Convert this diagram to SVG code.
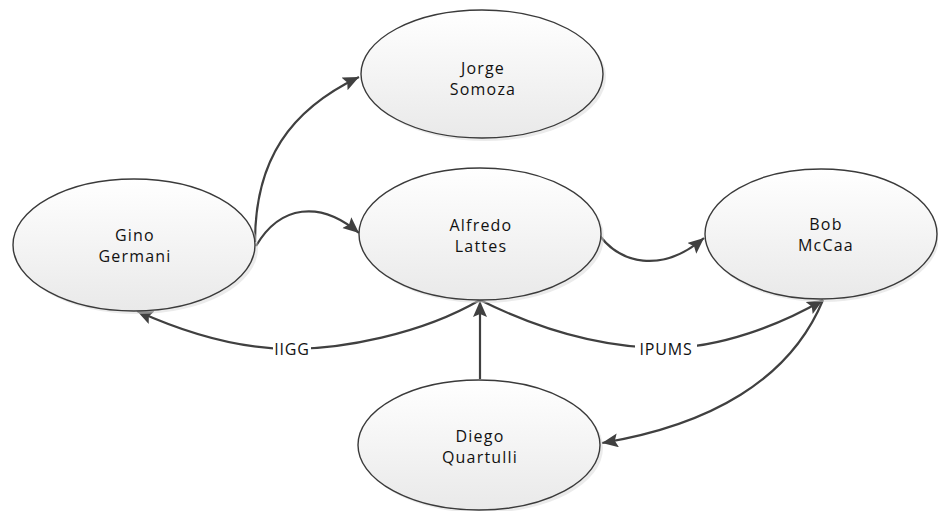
<svg xmlns="http://www.w3.org/2000/svg" width="938" height="511" viewBox="0 0 938 511">
<defs>
<linearGradient id="g" x1="0" y1="0" x2="0" y2="1">
<stop offset="0" stop-color="#ffffff"/>
<stop offset="1" stop-color="#e9e9e9"/>
</linearGradient>
<marker id="ah" markerUnits="userSpaceOnUse" markerWidth="18" markerHeight="16" refX="16" refY="7" orient="auto">
<path d="M0,0 L16,7 L0,14 L3,7 Z" fill="#404040"/>
</marker>
</defs>
<style>
.node ellipse.e{fill:url(#g);stroke:#3a3a3a;stroke-width:1.4}
.node ellipse.s{fill:#d8d8d8;opacity:0.5}
.node text{font-family:"Open Sans","Liberation Sans",sans-serif;font-size:16px;letter-spacing:1.2px;fill:#111;text-anchor:middle}
.edge{fill:none;stroke:#404040;stroke-width:2.2}
.lbl{font-family:"Open Sans","Liberation Sans",sans-serif;font-size:16px;letter-spacing:0.8px;fill:#111;text-anchor:middle}
</style>
<rect width="938" height="511" fill="#ffffff"/>
<g id="connectors">
<path class="edge" d="M255,242 C255,160 290,110 359,77" marker-end="url(#ah)"/>
<path class="edge" d="M256,246 C280,205 320,200 359,233" marker-end="url(#ah)"/>
<path class="edge" d="M600,236 C620,262 660,275 704,238" marker-end="url(#ah)"/>
<path class="edge" d="M480,300 C420,335 340,349 292,349 C240,349 190,335 137,311" marker-end="url(#ah)"/>
<path class="edge" d="M480,300 C540,330 600,348 666,348 C720,348 780,325 823,300" marker-end="url(#ah)"/>
<path class="edge" d="M480,379 L480,301" marker-end="url(#ah)"/>
<path class="edge" d="M823,300 C790,380 710,425 602,443" marker-end="url(#ah)"/>
<rect x="273" y="340" width="38" height="18" fill="#ffffff"/>
<text class="lbl" x="292" y="355">IIGG</text>
<rect x="635" y="340" width="62" height="18" fill="#ffffff"/>
<text class="lbl" x="666" y="355">IPUMS</text>
</g>
<g id="gino" class="node">
<ellipse class="s" cx="137" cy="248" rx="121" ry="66"/>
<ellipse class="e" cx="134" cy="245" rx="121" ry="66"/>
<text x="135" y="241">Gino</text>
<text x="135" y="262">Germani</text>
</g>
<g id="jorge" class="node">
<ellipse class="s" cx="485" cy="77" rx="121" ry="64"/>
<ellipse class="e" cx="482" cy="74" rx="121" ry="64"/>
<text x="483" y="74">Jorge</text>
<text x="483" y="95">Somoza</text>
</g>
<g id="alfredo" class="node">
<ellipse class="s" cx="483" cy="237" rx="121" ry="66"/>
<ellipse class="e" cx="480" cy="234" rx="121" ry="66"/>
<text x="481" y="231">Alfredo</text>
<text x="481" y="252">Lattes</text>
</g>
<g id="bob" class="node">
<ellipse class="s" cx="823" cy="237" rx="116" ry="65"/>
<ellipse class="e" cx="821" cy="234" rx="116" ry="65"/>
<text x="826" y="230">Bob</text>
<text x="826" y="251">McCaa</text>
</g>
<g id="diego" class="node">
<ellipse class="s" cx="482" cy="448" rx="121" ry="65"/>
<ellipse class="e" cx="479" cy="445" rx="121" ry="65"/>
<text x="480" y="442">Diego</text>
<text x="480" y="463">Quartulli</text>
</g>
</svg>
